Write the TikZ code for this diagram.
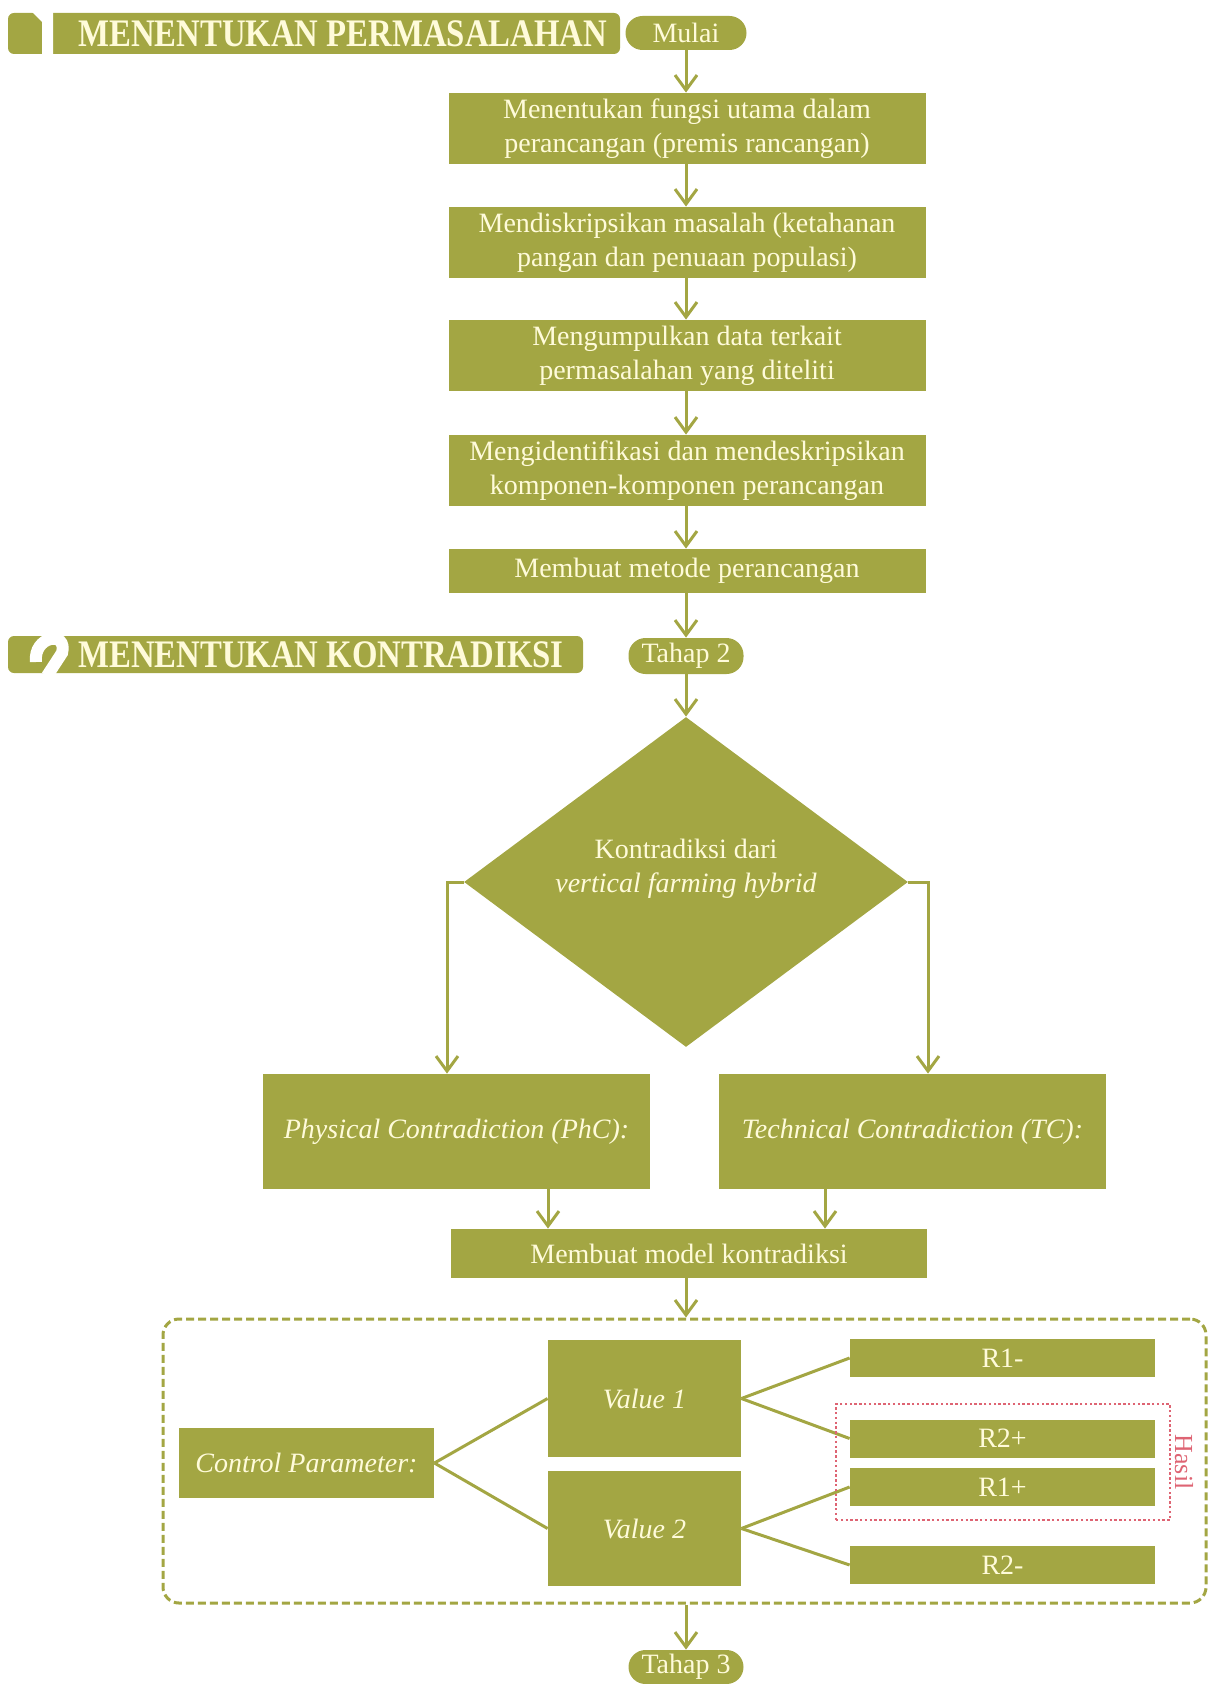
\documentclass[tikz,border=0pt]{standalone}
\usepackage{fontspec}
\setmainfont{Liberation Serif}
\usetikzlibrary{shapes.geometric,arrows.meta}
\definecolor{og}{RGB}{163,166,67}
\definecolor{cr}{RGB}{255,251,218}
\definecolor{rd}{RGB}{222,100,115}
\begin{document}
\begin{tikzpicture}[x=0.5pt,y=-0.5pt,
  box/.style={fill=og, text=cr, draw=none, inner sep=1pt, align=center,
    font=\fontsize{14}{17}\selectfont},
  pill/.style={box, rounded corners=8.5pt},
  rbox/.style={box, minimum width=152.5pt, minimum height=19pt},
  arr/.style={draw=og, line width=1.5pt, -{Straight Barb[length=7.5pt,width=11pt,line width=1.5pt]}},
  ln/.style={draw=og, line width=1.5pt},
  banner/.style={fill=og, rounded corners=3pt},
  htext/.style={text=cr, inner sep=0pt, anchor=west, font=\fontsize{19.5}{19.5}\selectfont\bfseries}
]
\useasboundingbox (0,0) rectangle (1208,1684);

% ---------- banner 1 (white digit 1 cut out of the green)
\fill[banner] (8,13) rectangle (620,54);
\fill[white] (32,12) -- (53,12) -- (53,55) -- (42,55) -- (42,22) -- cycle;
\node[htext] (h1) at (78,33.5) {\scalebox{0.84}[1]{MENENTUKAN PERMASALAHAN}};

% ---------- banner 2 (white digit 2 cut out of the green)
\fill[banner] (8,636) rectangle (583,673);
\begin{scope}
\clip (8,636) rectangle (583,673);
\draw[white, line width=6pt, line cap=butt] (36,662) .. controls (33,636) and (68,630) .. (62,653) -- (47,676);
\end{scope}
\node[htext] (h2) at (78,654.5) {\scalebox{0.84}[1]{MENENTUKAN KONTRADIKSI}};

% ---------- column 1
\node[pill, minimum width=60.5pt, minimum height=17pt] (mulai) at (686,33) {Mulai};
\node[box, minimum width=238.5pt, minimum height=35.5pt] (b1) at (687,128.5) {Menentukan fungsi utama dalam\\perancangan (premis rancangan)};
\node[box, minimum width=238.5pt, minimum height=35.5pt] (b2) at (687,242.5) {Mendiskripsikan masalah (ketahanan\\pangan dan penuaan populasi)};
\node[box, minimum width=238.5pt, minimum height=35.5pt] (b3) at (687,355.5) {Mengumpulkan data terkait\\permasalahan yang diteliti};
\node[box, minimum width=238.5pt, minimum height=35.5pt] (b4) at (687,470.5) {Mengidentifikasi dan mendeskripsikan\\komponen-komponen perancangan};
\node[box, minimum width=238.5pt, minimum height=22pt] (b5) at (687,571) {Membuat metode perancangan};
\node[pill, minimum width=57.5pt, minimum height=18pt] (t2) at (686,656) {Tahap 2};

\draw[arr] (mulai.south) -- (b1.north -| mulai.south);
\draw[arr] (b1.south -| mulai.south) -- (b2.north -| mulai.south);
\draw[arr] (b2.south -| mulai.south) -- (b3.north -| mulai.south);
\draw[arr] (b3.south -| mulai.south) -- (b4.north -| mulai.south);
\draw[arr] (b4.south -| mulai.south) -- (b5.north -| mulai.south);
\draw[arr] (b5.south -| t2.north) -- (t2.north);

% ---------- diamond
\node[diamond, fill=og, draw=none, inner sep=0pt, minimum width=222pt, minimum height=165pt] (dia) at (686,882) {};
\node[box, fill=none] (diat) at (686,869) {Kontradiksi dari\\\textit{vertical farming hybrid}};
\draw[arr] (t2.south) -- (dia.north);

\node[box, minimum width=193.5pt, minimum height=57.5pt] (phc) at (456.5,1131.5) {\textit{Physical Contradiction (PhC):}};
\node[box, minimum width=193.5pt, minimum height=57.5pt] (tc) at (912.5,1131.5) {\textit{Technical Contradiction (TC):}};
\coordinate (lb) at (447,882);
\coordinate (rb) at (928,882);
\draw[arr] (dia.west) -- (lb) -- (lb |- phc.north);
\draw[arr] (dia.east) -- (rb) -- (rb |- tc.north);

\node[box, minimum width=238pt, minimum height=24.5pt] (mem) at (689,1253.5) {Membuat model kontradiksi};
\coordinate (pax) at (548,0);
\coordinate (tax) at (825,0);
\draw[arr] (phc.south -| pax) -- (mem.north -| pax);
\draw[arr] (tc.south -| tax) -- (mem.north -| tax);

% ---------- group
\node[draw=og, line width=1.5pt, dash pattern=on 4pt off 2pt, rounded corners=8pt,
  minimum width=521.5pt, minimum height=142pt, inner sep=0pt] (grp) at (684.5,1461) {};
\draw[arr] (mem.south -| t2.south) -- (grp.north -| t2.south);

\node[box, minimum width=127.5pt, minimum height=35pt] (cp) at (306.5,1463) {\textit{Control Parameter:}};
\node[box, minimum width=96.5pt, minimum height=58.5pt] (v1) at (644.5,1398.5) {\textit{Value 1}};
\node[box, minimum width=96.5pt, minimum height=57.5pt] (v2) at (644.5,1528.5) {\textit{Value 2}};
\node[rbox] (r1m) at (1002.5,1358) {R1-};
\node[rbox] (r2p) at (1002.5,1438.5) {R2+};
\node[rbox] (r1p) at (1002.5,1487) {R1+};
\node[rbox] (r2m) at (1002.5,1565) {R2-};

\draw[ln] (cp.east) -- (v1.west);
\draw[ln] (cp.east) -- (v2.west);
\draw[ln] (v1.east) -- (r1m.west);
\draw[ln] (v1.east) -- (r2p.west);
\draw[ln] (v2.east) -- (r1p.west);
\draw[ln] (v2.east) -- (r2m.west);

\node[draw=rd, line width=0.8pt, dash pattern=on 1.2pt off 1.2pt, minimum width=167pt, minimum height=58pt, inner sep=0pt] (hasilbox) at (1003,1462) {};
\node[text=rd, rotate=-90, inner sep=0pt, font=\fontsize{13}{13}\selectfont] (hasil) at (1184,1462) {Hasil};

\node[pill, minimum width=57.5pt, minimum height=17pt] (t3) at (686,1667) {Tahap 3};
\draw[arr] (grp.south -| t3.north) -- (t3.north);
\end{tikzpicture}
\end{document}
